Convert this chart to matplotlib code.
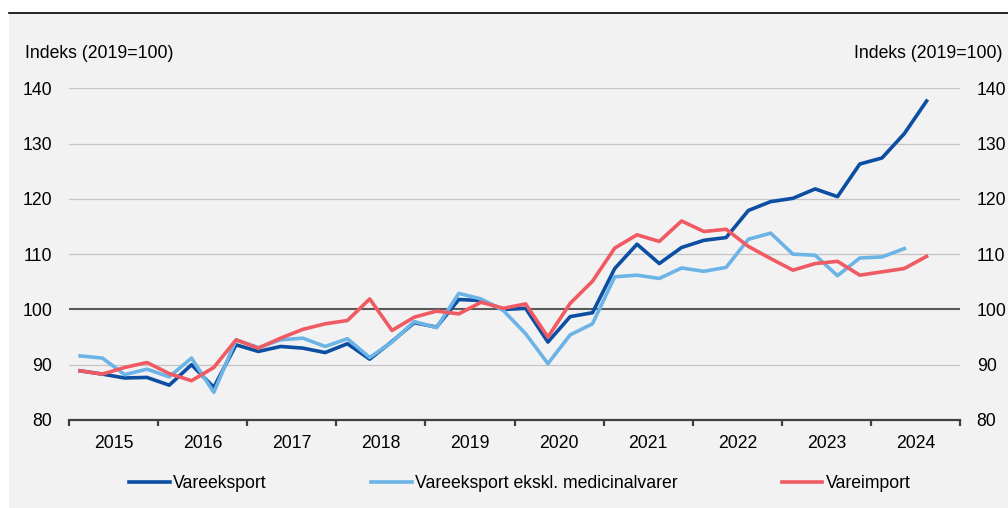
import numpy as np
import matplotlib.pyplot as plt
from matplotlib.patches import Rectangle
from matplotlib.lines import Line2D

plt.rcParams['font.family'] = ['Liberation Sans', 'DejaVu Sans']
FS = 12.7
plt.rcParams['font.size'] = FS

# quarterly data, 2015K1 - 2024K3 (index 2019=100)
years = list(range(2015, 2025))
quarters = ['{}K{}'.format(y, q) for y in years for q in range(1, 5)][:39]

vareeksport = [88.9, 88.3, 87.6, 87.7, 86.3, 90.0, 85.9, 93.6,
               92.4, 93.3, 93.0, 92.2, 93.8, 91.0, 94.2, 97.6,
               96.8, 101.8, 101.6, 100.0, 100.2, 94.1, 98.7, 99.4,
               107.4, 111.8, 108.3, 111.2, 112.5, 113.0, 117.9, 119.5,
               120.1, 121.8, 120.4, 126.3, 127.4, 131.8, 137.7]
eksport_ekskl_med = [91.6, 91.2, 88.2, 89.2, 87.8, 91.2, 85.0, 94.5,
                     93.1, 94.5, 94.8, 93.3, 94.7, 91.3, 94.1, 97.8,
                     96.7, 102.9, 101.9, 99.8, 95.6, 90.2, 95.4, 97.4,
                     105.9, 106.2, 105.6, 107.5, 106.9, 107.6, 112.7, 113.8,
                     110.0, 109.8, 106.1, 109.3, 109.5, 111.0]
vareimport = [88.9, 88.3, 89.5, 90.4, 88.4, 87.1, 89.5, 94.5,
              93.0, 94.8, 96.4, 97.4, 98.0, 101.9, 96.2, 98.6,
              99.7, 99.2, 101.3, 100.2, 101.0, 95.0, 101.1, 105.1,
              111.1, 113.5, 112.3, 116.0, 114.1, 114.5, 111.4, 109.2,
              107.1, 108.3, 108.7, 106.2, 106.8, 107.4, 109.6]

series = [
    ('Vareeksport', vareeksport, '#0b4ea2', 3),
    ('Vareeksport ekskl. medicinalvarer', eksport_ekskl_med, '#6cb4e6', 4),
    ('Vareimport', vareimport, '#ef5a63', 5),
]

def qpos(label):
    y, q = label.split('K')
    return int(y) + (int(q) - 0.5) / 4

W, H = 1008, 508
fig = plt.figure(figsize=(W / 100, H / 100), dpi=100)
fig.patch.set_facecolor('white')
fig.patches.append(Rectangle((9 / W, 0), 1 - 9 / W, 1 - 12.5 / H, transform=fig.transFigure,
                             facecolor='#f2f2f2', edgecolor='none', zorder=-5))
fig.add_artist(Line2D([9 / W, 1], [1 - 12.5 / H] * 2, color='black', lw=1.2))

ax = fig.add_axes([69 / W, 1 - 420 / H, (960 - 69) / W, (420 - 88.3) / H])
ax.set_facecolor('none')
ax.set_xlim(2015, 2025)
ax.set_ylim(80, 140)
yt = [80, 90, 100, 110, 120, 130, 140]
ax.set_yticks(yt)
ax.tick_params(axis='y', length=0, pad=12, labelsize=FS)
for v in yt[1:]:
    if v != 100:
        ax.axhline(v, color='#c4c4c4', lw=0.9, zorder=1)
ax.axhline(100, color='#595959', lw=1.5, zorder=2)

for s in ['left', 'right', 'top']:
    ax.spines[s].set_visible(False)
ax.spines['bottom'].set_color('#404040')
ax.spines['bottom'].set_linewidth(1.6)

ax.set_xticks(range(2015, 2026))
ax.set_xticklabels([])
ax.set_xticks([y + 0.5 for y in years], minor=True)
ax.set_xticklabels([str(y) for y in years], minor=True)
ax.tick_params(axis='x', which='major', direction='out', length=4.5, width=1.6, color='#404040')
ax.tick_params(axis='x', which='minor', length=0, pad=11, labelsize=FS)

handles = []
for name, vals, col, z in series:
    x = [qpos(q) for q in quarters[:len(vals)]]
    ln, = ax.plot(x, vals, color=col, lw=2.6, zorder=z, label=name)
    handles.append(ln)

ax2 = ax.twinx()
ax2.set_ylim(80, 140)
ax2.set_yticks(yt)
ax2.tick_params(axis='y', length=0, pad=12, labelsize=FS)
for s in ax2.spines.values():
    s.set_visible(False)

fig.text(25 / W, 1 - 58.5 / H, 'Indeks (2019=100)', ha='left', va='baseline')
fig.text(1003 / W, 1 - 58.5 / H, 'Indeks (2019=100)', ha='right', va='baseline')

fig.legend(handles=handles, loc='center', bbox_to_anchor=(520 / W, 1 - 484 / H), ncol=3,
           frameon=False, handlelength=2.3, handletextpad=0.2, columnspacing=5.9, fontsize=FS)

fig.savefig('out.png', dpi=100)
